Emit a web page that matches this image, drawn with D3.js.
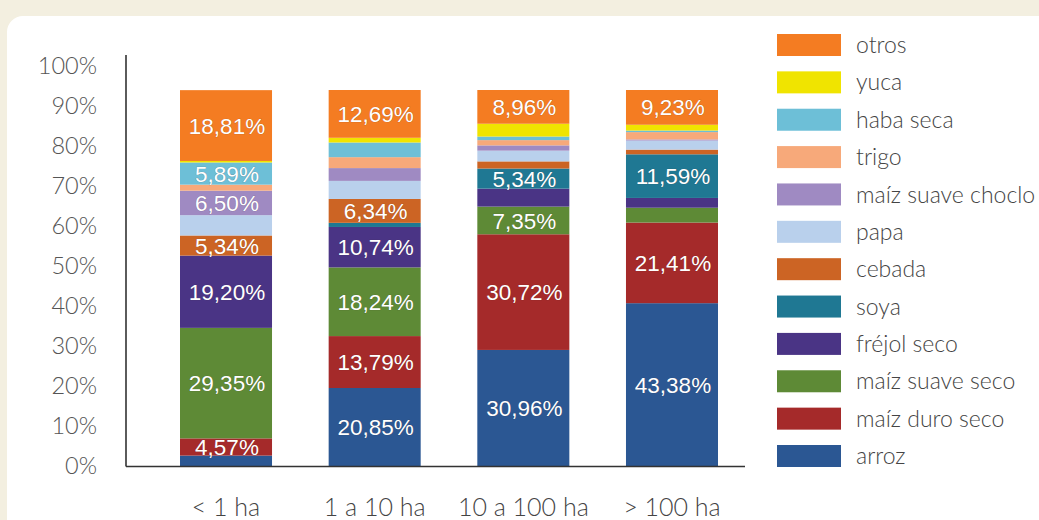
<!DOCTYPE html>
<html><head><meta charset="utf-8">
<script src="https://cdn.jsdelivr.net/npm/d3@7"></script>
<style>
html,body{margin:0;padding:0;background:#f3efe0;}
svg{display:block;}
</style></head>
<body>
<svg id="chart" width="1039" height="520"></svg>
<script>
// ---------- DATA ----------
const categories = ["< 1 ha", "1 a 10 ha", "10 a 100 ha", "> 100 ha"];
// series in stacking order, bottom to top
const seriesNames = ["arroz", "maíz duro seco", "maíz suave seco", "fréjol seco", "soya", "cebada",
                     "papa", "maíz suave choclo", "trigo", "haba seca", "yuca", "otros"];
const seriesColors = ["#2b5793", "#a52a2a", "#5e8a36", "#4a3485", "#1f7893", "#cc6424",
                      "#b9d0ec", "#9f8ac2", "#f7a97a", "#6dbfd7", "#f0e400", "#f47c22"];
// values (%) per series, one per category
const arroz           = [2.90, 20.85, 30.96, 43.38];
const maizDuroSeco    = [4.57, 13.79, 30.72, 21.41];
const maizSuaveSeco   = [29.35, 18.24, 7.35, 3.94];
const frejolSeco      = [19.20, 10.74, 4.77, 2.60];
const soya            = [0.00, 1.10, 5.34, 11.59];
const cebada          = [5.34, 6.34, 1.90, 1.25];
const papa            = [5.40, 4.80, 2.85, 2.40];
const maizSuaveChoclo = [6.50, 3.40, 1.40, 0.30];
const trigo           = [1.60, 2.90, 1.40, 1.95];
const habaSeca        = [5.89, 3.90, 0.95, 0.40];
const yuca            = [0.40, 1.25, 3.40, 1.55];
const otros           = [18.81, 12.69, 8.96, 9.23];
const seriesValues = [arroz, maizDuroSeco, maizSuaveSeco, frejolSeco, soya, cebada,
                      papa, maizSuaveChoclo, trigo, habaSeca, yuca, otros];
// which segments carry a value label
const labelledSeries = [
  ["maíz duro seco", "maíz suave seco", "fréjol seco", "cebada", "maíz suave choclo", "haba seca", "otros"],
  ["arroz", "maíz duro seco", "maíz suave seco", "fréjol seco", "cebada", "otros"],
  ["arroz", "maíz duro seco", "maíz suave seco", "soya", "otros"],
  ["arroz", "maíz duro seco", "soya", "otros"]
];
const tickLabels = ["0%", "10%", "20%", "30%", "40%", "50%", "60%", "70%", "80%", "90%", "100%"];
const legendOrder = ["otros", "yuca", "haba seca", "trigo", "maíz suave choclo", "papa",
                     "cebada", "soya", "fréjol seco", "maíz suave seco", "maíz duro seco", "arroz"];

// ---------- BUILD ----------
const svg = d3.select("#chart");
const W = 1039, H = 520;

// panel
svg.append("rect").attr("x", 7).attr("y", 16).attr("width", W + 20).attr("height", H + 20)
  .attr("rx", 16).attr("fill", "#ffffff");

const baseY = 466.5;
const axisX = 126;

const table = categories.map((c, i) => {
  const row = { cat: c };
  seriesNames.forEach((s, j) => row[s] = seriesValues[j][i]);
  return row;
});
const stacked = d3.stack().keys(seriesNames)(table);

const x = d3.scaleBand().domain(categories).range([157.7, 740.3])
  .paddingInner(0.381).paddingOuter(0.15);
const y = d3.scaleLinear().domain([0, 100]).range([baseY, 90]);
const yTicks = d3.scalePoint().domain(tickLabels).range([466, 66]);
const color = d3.scaleOrdinal().domain(seriesNames).range(seriesColors);

// bars
const g = svg.append("g");
stacked.forEach(layer => {
  g.selectAll(null).data(layer).enter().append("rect")
    .attr("x", d => x(d.data.cat))
    .attr("width", x.bandwidth())
    .attr("y", d => y(d[1]))
    .attr("height", d => Math.max(0, y(d[0]) - y(d[1])))
    .attr("fill", color(layer.key));
});

// value labels
const fmt = v => d3.format(".2f")(v).replace(".", ",") + "%";
stacked.forEach(layer => {
  layer.forEach((d, i) => {
    if (!labelledSeries[i].includes(layer.key)) return;
    const cy = (y(d[0]) + y(d[1])) / 2;
    svg.append("text")
      .attr("x", x(d.data.cat) + x.bandwidth() / 2 + 1)
      .attr("y", cy)
      .attr("dy", "0.36em")
      .attr("text-anchor", "middle")
      .attr("font-family", "'Liberation Sans', Arial, sans-serif")
      .attr("font-size", 22.5)
      .attr("fill", "#ffffff")
      .attr("stroke", "rgba(60,40,30,0.35)")
      .attr("stroke-width", 0.7)
      .attr("paint-order", "stroke")
      .text(fmt(d[1] - d[0]));
  });
});

// axes lines
svg.append("line").attr("x1", axisX).attr("x2", axisX).attr("y1", 55).attr("y2", baseY)
  .attr("stroke", "#333").attr("stroke-width", 1.6);
svg.append("line").attr("x1", axisX).attr("x2", 745).attr("y1", baseY).attr("y2", baseY)
  .attr("stroke", "#333").attr("stroke-width", 1.6);

// y tick labels
const yAxis = d3.axisLeft(yTicks).tickSize(0).tickPadding(0);
const ya = svg.append("g").attr("transform", "translate(97,0)").call(yAxis);
ya.select(".domain").remove();
ya.selectAll("text")
  .attr("font-family", "Lato, 'Open Sans', sans-serif")
  .attr("font-weight", 300)
  .attr("font-size", 23.5)
  .attr("fill", "#555");

// x category labels
const xAxis = d3.axisBottom(x).tickSize(0).tickPadding(0);
const xa = svg.append("g").attr("transform", "translate(0,498)").call(xAxis);
xa.select(".domain").remove();
xa.selectAll("text")
  .attr("font-family", "Lato, 'Open Sans', sans-serif")
  .attr("font-weight", 300)
  .attr("font-size", 25)
  .attr("fill", "#444");

// legend
const legend = svg.append("g");
const ly = d3.scalePoint().domain(legendOrder).range([34, 445]);
legendOrder.forEach(s => {
  legend.append("rect").attr("x", 777).attr("y", ly(s)).attr("width", 64).attr("height", 22)
    .attr("fill", color(s));
  legend.append("text").attr("x", 856).attr("y", ly(s) + 11).attr("dy", "0.35em")
    .attr("font-family", "Lato, 'Open Sans', sans-serif")
    .attr("font-weight", 300)
    .attr("font-size", 23)
    .attr("fill", "#444")
    .text(s);
});
</script>
</body></html>
